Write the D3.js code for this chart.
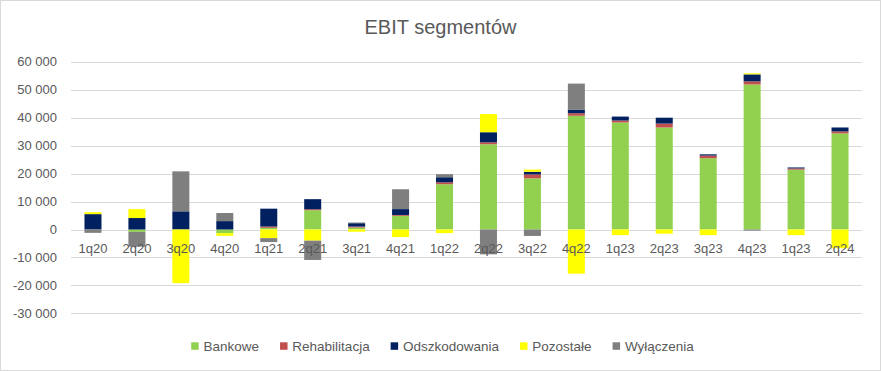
<!DOCTYPE html>
<html>
<head>
<meta charset="utf-8">
<script src="https://cdn.jsdelivr.net/npm/d3@7"></script>
<style>
  body { margin: 0; background: #fff; }
  text { font-family: "Liberation Sans", Arial, sans-serif; fill: #595959; }
</style>
</head>
<body>
<div class="chart"></div>
<script>
// Data
var quarters = ["1q20", "2q20", "3q20", "4q20", "1q21", "2q21", "3q21", "4q21", "1q22",
  "2q22", "3q22", "4q22", "1q23", "2q23", "3q23", "4q23", "1q23 ", "2q24"];
var seriesNames = ["Bankowe", "Rehabilitacja", "Odszkodowania", "Pozostałe", "Wyłączenia"];
var bankowe =       [0, -850, 0, -1300, 600, 6900, 700, 4900, 16200, 30500, 18300, 40700, 38300, 36500, 25500, 51900, 21400, 34400];
var rehabilitacja = [0, 0, 0, 0, 450, 350, 350, 300, 700, 700, 1400, 900, 700, 1400, 950, 1100, 450, 700];
var odszkodowania = [5500, 4100, 6500, 3000, 6400, 3600, 1200, 2100, 1800, 3600, 950, 1300, 1400, 2100, 450, 2500, 350, 1400];
var pozostale =     [700, 3200, -19200, -950, -3100, -4000, -800, -2700, -1300, 6500, 800, -15800, -2000, -1500, -2000, 400, -2000, -6700];
var wylaczenia =    [-1200, -5300, 14300, 2900, -1400, -6900, 250, 7100, 1100, -8900, -2300, 9300, 0, 0, 0, -400, 0, 0];
var yTicks = [-30000, -20000, -10000, 0, 10000, 20000, 30000, 40000, 50000, 60000];
var colors = ["#92d050", "#c0504d", "#002060", "#ffff00", "#7f7f7f"];

var svgWidth = 881;
var svgHeight = 371;
var margin = { top: 62, right: 19, bottom: 58, left: 71 };
var width = svgWidth - margin.left - margin.right;
var yZero = 229.5;

var svg = d3.select(".chart")
  .append("svg")
  .attr("width", svgWidth)
  .attr("height", svgHeight);

// outer frame
svg.append("rect")
  .attr("x", 0.5).attr("y", 0.5)
  .attr("width", svgWidth - 1).attr("height", svgHeight - 1)
  .attr("fill", "#fff")
  .attr("stroke", "#d9d9d9");

// title
svg.append("text")
  .attr("x", 440.5)
  .attr("y", 34)
  .attr("text-anchor", "middle")
  .style("font-size", "20px")
  .text("EBIT segmentów");

var chartGroup = svg.append("g")
  .attr("transform", `translate(${margin.left}, 0)`);

// rows for the stack
var rows = quarters.map(function (q, i) {
  return {
    q: q,
    Bankowe: bankowe[i],
    Rehabilitacja: rehabilitacja[i],
    Odszkodowania: odszkodowania[i],
    "Pozostałe": pozostale[i],
    "Wyłączenia": wylaczenia[i]
  };
});

var stacked = d3.stack()
  .keys(seriesNames)
  .offset(d3.stackOffsetDiverging)(rows);

var xScale = d3.scaleBand()
  .domain(quarters)
  .range([0, width])
  .paddingInner(0.613)
  .paddingOuter(0.3065);

var yScale = d3.scaleLinear()
  .domain([-30000, 60000])
  .range([yZero + 83.85, yZero - 167.7]);

var locale = d3.formatLocale({ decimal: ",", thousands: " ", grouping: [3], currency: ["", ""], minus: "-" });
var fmt = locale.format(",");

// gridlines
chartGroup.append("g")
  .selectAll("line")
  .data(yTicks)
  .enter()
  .append("line")
  .attr("x1", 0)
  .attr("x2", width)
  .attr("y1", d => Math.round(yScale(d)) + 0.5)
  .attr("y2", d => Math.round(yScale(d)) + 0.5)
  .attr("stroke", "#d9d9d9")
  .attr("stroke-width", 1);

// y labels
chartGroup.append("g")
  .selectAll("text")
  .data(yTicks)
  .enter()
  .append("text")
  .attr("x", -14)
  .attr("y", d => yScale(d))
  .attr("dy", "0.35em")
  .attr("text-anchor", "end")
  .style("font-size", "13px")
  .text(d => fmt(d));

// bars
chartGroup.selectAll("g.series")
  .data(stacked)
  .enter()
  .append("g")
  .attr("class", "series")
  .attr("fill", (d, i) => colors[i])
  .selectAll("rect")
  .data(d => d)
  .enter()
  .append("rect")
  .attr("x", d => xScale(d.data.q))
  .attr("width", xScale.bandwidth())
  .attr("y", d => yScale(Math.max(d[0], d[1])))
  .attr("height", d => Math.abs(yScale(d[0]) - yScale(d[1])));

// category labels (drawn over the bars)
chartGroup.append("g")
  .selectAll("text")
  .data(quarters)
  .enter()
  .append("text")
  .attr("x", d => xScale(d) + xScale.bandwidth() / 2)
  .attr("y", 252.6)
  .attr("text-anchor", "middle")
  .style("font-size", "13px")
  .text(d => d.trim());

// legend
var legend = svg.append("g");
var lx = 0;
seriesNames.forEach(function (name, i) {
  var item = legend.append("g").attr("transform", `translate(${lx}, 0)`);
  item.append("rect")
    .attr("x", 0).attr("y", 342.3)
    .attr("width", 7.5).attr("height", 7.5)
    .attr("fill", colors[i]);
  var t = item.append("text")
    .attr("x", 12.3)
    .attr("y", 350.6)
    .style("font-size", "13.5px")
    .text(name);
  lx += 12.3 + t.node().getComputedTextLength() + 21;
});
var legendWidth = lx - 21;
legend.attr("transform", `translate(${442.5 - legendWidth / 2}, 0)`);
</script>
</body>
</html>
